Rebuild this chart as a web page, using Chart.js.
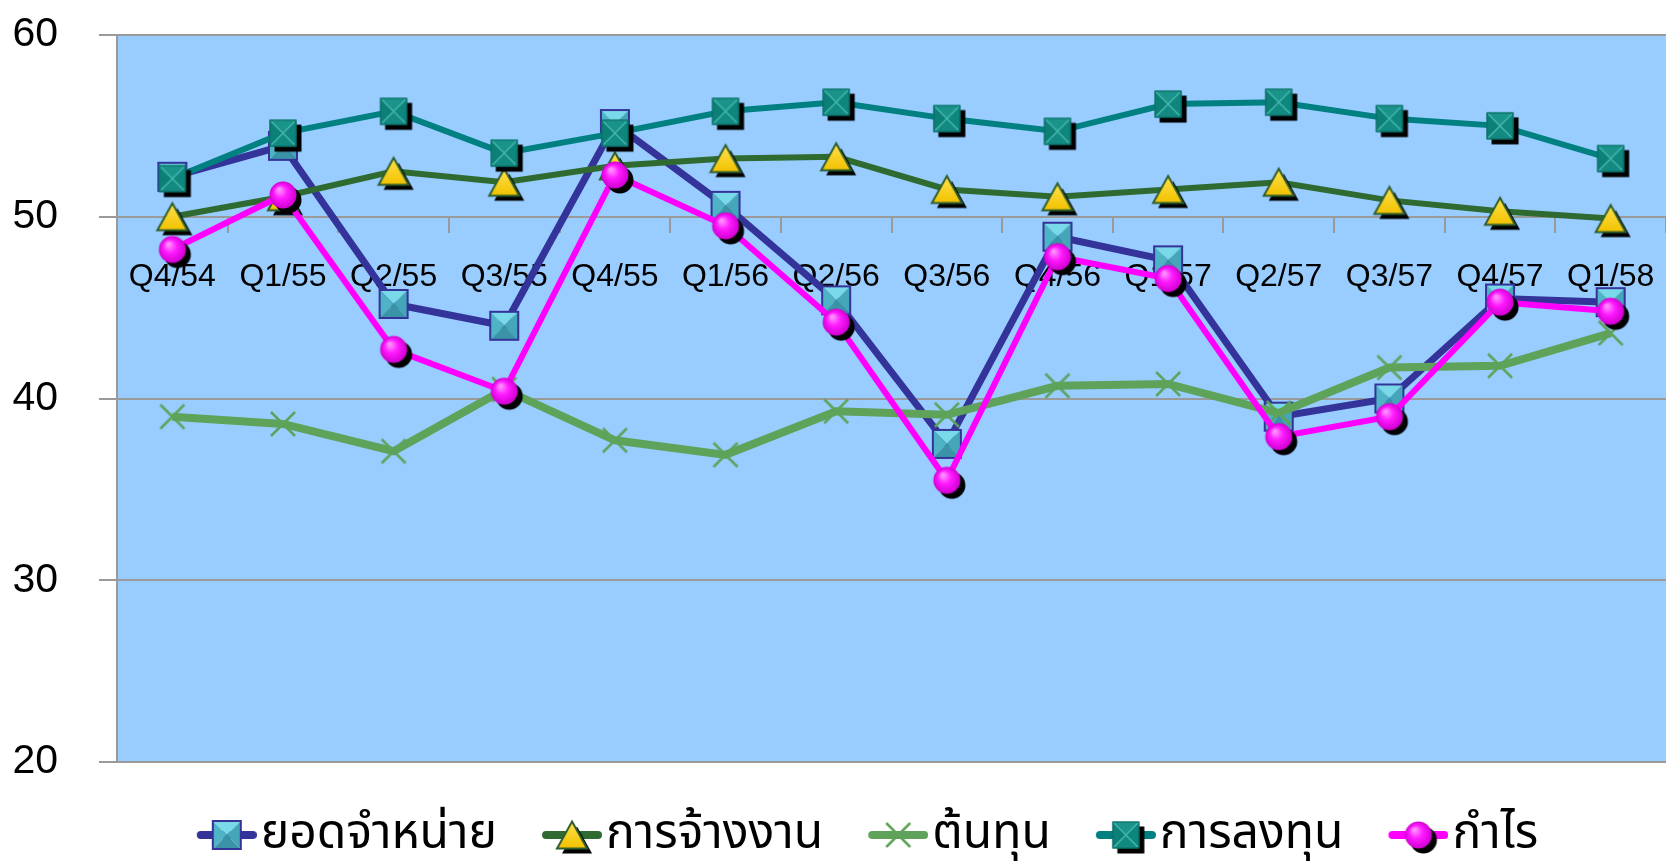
<!DOCTYPE html>
<html lang="th">
<head>
<meta charset="utf-8">
<title>ดัชนีความเชื่อมั่น</title>
<script src="https://cdn.jsdelivr.net/npm/chart.js@4/dist/chart.umd.min.js"></script>
<style>
  html, body { margin: 0; padding: 0; background: #ffffff; }
  canvas { display: block; }
</style>
</head>
<body>
<canvas id="chart" width="1666" height="861"></canvas>
<script>
// Quarter labels (Thai Buddhist-era years)
const quarters = ['Q4/54', 'Q1/55', 'Q2/55', 'Q3/55', 'Q4/55', 'Q1/56', 'Q2/56',
                  'Q3/56', 'Q4/56', 'Q1/57', 'Q2/57', 'Q3/57', 'Q4/57', 'Q1/58'];

const seriesNames = ['ยอดจำหน่าย', 'การจ้างงาน', 'ต้นทุน', 'การลงทุน', 'กำไร'];

const sales      = [52.2, 53.9, 45.2, 44.0, 55.1, 50.6, 45.4, 37.5, 48.9, 47.6, 39.0, 40.0, 45.5, 45.3];
const employment = [50.0, 51.1, 52.5, 51.9, 52.8, 53.2, 53.3, 51.5, 51.1, 51.5, 51.9, 50.9, 50.3, 49.9];
const cost       = [39.0, 38.6, 37.1, 40.5, 37.7, 36.9, 39.3, 39.1, 40.7, 40.8, 39.2, 41.7, 41.8, 43.6];
const investment = [52.1, 54.6, 55.8, 53.5, 54.6, 55.8, 56.3, 55.4, 54.7, 56.2, 56.3, 55.4, 55.0, 53.2];
const profit     = [48.2, 51.2, 42.7, 40.4, 52.3, 49.5, 44.2, 35.5, 47.8, 46.6, 37.9, 39.0, 45.3, 44.8];

const yTicks = { min: 20, max: 60, step: 10 };

const FONT = "'Liberation Sans', Arial, 'Noto Sans', 'Noto Sans Thai', Tahoma, sans-serif";

// ---------- marker images ----------
function makeCanvas(w, h) {
  const c = document.createElement('canvas');
  c.width = w; c.height = h;
  return c;
}

function fillPoly(ctx, pts, col) {
  ctx.beginPath(); ctx.moveTo(pts[0], pts[1]);
  for (let i = 2; i < pts.length; i += 2) ctx.lineTo(pts[i], pts[i + 1]);
  ctx.closePath(); ctx.fillStyle = col; ctx.fill();
}

// bevelled cyan square, navy border (no shadow)
function drawSalesSquare(ctx, cx, cy, s) {
  const x0 = cx - s / 2, y0 = cy - s / 2, x1 = cx + s / 2, y1 = cy + s / 2;
  fillPoly(ctx, [x0, y0, x1, y0, cx, cy], '#7ad9e8');
  fillPoly(ctx, [x0, y0, x0, y1, cx, cy], '#4fb3c6');
  fillPoly(ctx, [x1, y0, x1, y1, cx, cy], '#45a6ba');
  fillPoly(ctx, [x0, y1, x1, y1, cx, cy], '#3b93a8');
  ctx.lineWidth = 2; ctx.strokeStyle = '#333399';
  ctx.strokeRect(x0, y0, s, s);
}

// teal square with an X bevel, black drop shadow
function drawInvestSquare(ctx, cx, cy, s, shadow) {
  const x0 = cx - s / 2, y0 = cy - s / 2, x1 = cx + s / 2, y1 = cy + s / 2;
  if (shadow) { ctx.fillStyle = '#000'; ctx.fillRect(x0 + shadow, y0 + shadow, s, s); }
  fillPoly(ctx, [x0, y0, x1, y0, cx, cy], '#1a938a');
  fillPoly(ctx, [x0, y0, x0, y1, cx, cy], '#0c7f77');
  fillPoly(ctx, [x1, y0, x1, y1, cx, cy], '#0e857d');
  fillPoly(ctx, [x0, y1, x1, y1, cx, cy], '#128a82');
  ctx.strokeStyle = '#45b7ac'; ctx.lineWidth = 1.5;
  ctx.beginPath(); ctx.moveTo(x0 + 2, y0 + 2); ctx.lineTo(x1 - 2, y1 - 2);
  ctx.moveTo(x1 - 2, y0 + 2); ctx.lineTo(x0 + 2, y1 - 2); ctx.stroke();
  ctx.strokeStyle = '#0a6a63'; ctx.lineWidth = 1;
  ctx.strokeRect(x0 + 0.5, y0 + 0.5, s - 1, s - 1);
}

// yellow triangle, dark green outline, black drop shadow
function drawTriangle(ctx, cx, cy, w, h, shadow) {
  const path = (dx, dy) => {
    ctx.beginPath();
    ctx.moveTo(cx + dx, cy - h / 2 + dy);
    ctx.lineTo(cx + w / 2 + dx, cy + h / 2 + dy);
    ctx.lineTo(cx - w / 2 + dx, cy + h / 2 + dy);
    ctx.closePath();
  };
  if (shadow) { path(shadow, shadow); ctx.fillStyle = '#000'; ctx.fill(); }
  path(0, 0);
  const g = ctx.createLinearGradient(0, cy - h / 2, 0, cy + h / 2);
  g.addColorStop(0, '#ffe14d'); g.addColorStop(1, '#f2c200');
  ctx.fillStyle = g; ctx.fill();
  ctx.lineWidth = 2; ctx.strokeStyle = '#2e5e2e'; ctx.stroke();
}

// green x-cross marker
function drawCross(ctx, cx, cy, s) {
  ctx.strokeStyle = '#5fa35a'; ctx.lineWidth = 2.5; ctx.lineCap = 'butt';
  ctx.beginPath();
  ctx.moveTo(cx - s / 2, cy - s / 2); ctx.lineTo(cx + s / 2, cy + s / 2);
  ctx.moveTo(cx + s / 2, cy - s / 2); ctx.lineTo(cx - s / 2, cy + s / 2);
  ctx.stroke();
}

// glossy magenta ball, black drop shadow
function drawBall(ctx, cx, cy, r, shadow) {
  if (shadow) {
    ctx.beginPath(); ctx.arc(cx + shadow, cy + shadow, r, 0, Math.PI * 2);
    ctx.fillStyle = '#000'; ctx.fill();
  }
  const g = ctx.createRadialGradient(cx - r * 0.3, cy - r * 0.4, r * 0.1, cx, cy, r);
  g.addColorStop(0, '#ff8cff'); g.addColorStop(0.45, '#ff1aff'); g.addColorStop(1, '#d000d0');
  ctx.beginPath(); ctx.arc(cx, cy, r, 0, Math.PI * 2);
  ctx.fillStyle = g; ctx.fill();
}

const drawers = [
  (ctx, cx, cy) => drawSalesSquare(ctx, cx, cy, 28),
  (ctx, cx, cy) => drawTriangle(ctx, cx, cy, 30, 27, 5),
  (ctx, cx, cy) => drawCross(ctx, cx, cy, 24),
  (ctx, cx, cy) => drawInvestSquare(ctx, cx, cy, 27, 5),
  (ctx, cx, cy) => drawBall(ctx, cx, cy, 13.5, 5)
];

function pointImage(i) {
  const c = makeCanvas(48, 48);
  drawers[i](c.getContext('2d'), 24, 24);
  return c;
}

const lineColors = ['#333399', '#2f6a30', '#5fa35a', '#008080', '#ff00ff'];
const lineWidths = [7, 6, 8, 6, 6];

// legend glyph: short line with the marker in the middle
const LEG_W = 76, LEG_H = 48, SYM_X0 = 16, SYM_LEN = 60;
function legendImage(i) {
  const c = makeCanvas(LEG_W, LEG_H);
  const ctx = c.getContext('2d');
  const cy = LEG_H / 2;
  ctx.strokeStyle = lineColors[i]; ctx.lineWidth = 8; ctx.lineCap = 'round';
  ctx.beginPath(); ctx.moveTo(SYM_X0 + 4, cy); ctx.lineTo(SYM_X0 + SYM_LEN - 4, cy); ctx.stroke();
  drawers[i](ctx, SYM_X0 + SYM_LEN / 2, cy);
  return c;
}

const seriesValues = [sales, employment, cost, investment, profit];
const pointImgs = seriesValues.map((_, i) => pointImage(i));
const legendImgs = seriesValues.map((_, i) => legendImage(i));

const datasets = seriesValues.map((vals, i) => ({
  label: seriesNames[i],
  data: vals,
  borderColor: lineColors[i],
  backgroundColor: lineColors[i],
  borderWidth: lineWidths[i],
  tension: 0,
  pointStyle: pointImgs[i],
  pointRadius: 14,
  pointHoverRadius: 14,
  pointBorderWidth: 0,
  order: seriesValues.length - i
}));

const plotBackground = {
  id: 'plotBackground',
  beforeDraw(chart) {
    const { ctx, chartArea: a } = chart;
    ctx.save();
    ctx.fillStyle = '#99ccff';
    ctx.fillRect(a.left, a.top, a.right - a.left, a.bottom - a.top);
    ctx.restore();
  }
};

// widen the legend box to the left so the legend row sits a little left of the plot centre
const legendBoxShift = {
  id: 'legendBoxShift',
  afterLayout(chart) {
    if (chart.legend) chart.legend.left -= 44;
  }
};

new Chart(document.getElementById('chart'), {
  type: 'line',
  data: { labels: quarters, datasets },
  plugins: [plotBackground, legendBoxShift],
  options: {
    responsive: false,
    animation: false,
    devicePixelRatio: 1,
    layout: { autoPadding: false, padding: { left: 0, top: 35, right: 0, bottom: -8 } },
    scales: {
      x: {
        type: 'category',
        position: { y: 50 },
        offset: true,
        grid: { drawOnChartArea: false, drawTicks: true, tickLength: 15, color: '#9a9a9a', lineWidth: 2, offset: true },
        border: { display: true, color: '#9a9a9a', width: 2 },
        ticks: { color: '#000', font: { family: FONT, size: 32 }, padding: 26, maxRotation: 0, autoSkip: false },
        afterFit(scale) { scale.paddingLeft = 0; scale.paddingRight = 0; }
      },
      y: {
        min: yTicks.min,
        max: yTicks.max,
        ticks: { stepSize: yTicks.step, color: '#000', font: { family: FONT, size: 41 }, padding: 41 },
        grid: { color: '#9a9a9a', lineWidth: 2, tickLength: 18, drawTicks: true },
        border: { display: true, color: '#9a9a9a', width: 2 },
        afterFit(scale) { scale.width = 117; scale.paddingTop = 0; scale.paddingBottom = 0; }
      }
    },
    plugins: {
      tooltip: { enabled: false },
      legend: {
        position: 'bottom',
        fullSize: false,
        labels: {
          usePointStyle: true,
          pointStyleWidth: 36,
          padding: 49,
          color: '#000',
          font: { family: FONT, size: 48 },
          sort: (a, b) => a.datasetIndex - b.datasetIndex,
          generateLabels(chart) {
            const base = Chart.defaults.plugins.legend.labels.generateLabels(chart);
            return base.map(item => Object.assign(item, { pointStyle: legendImgs[item.datasetIndex] }));
          }
        }
      }
    }
  }
});
</script>
</body>
</html>
